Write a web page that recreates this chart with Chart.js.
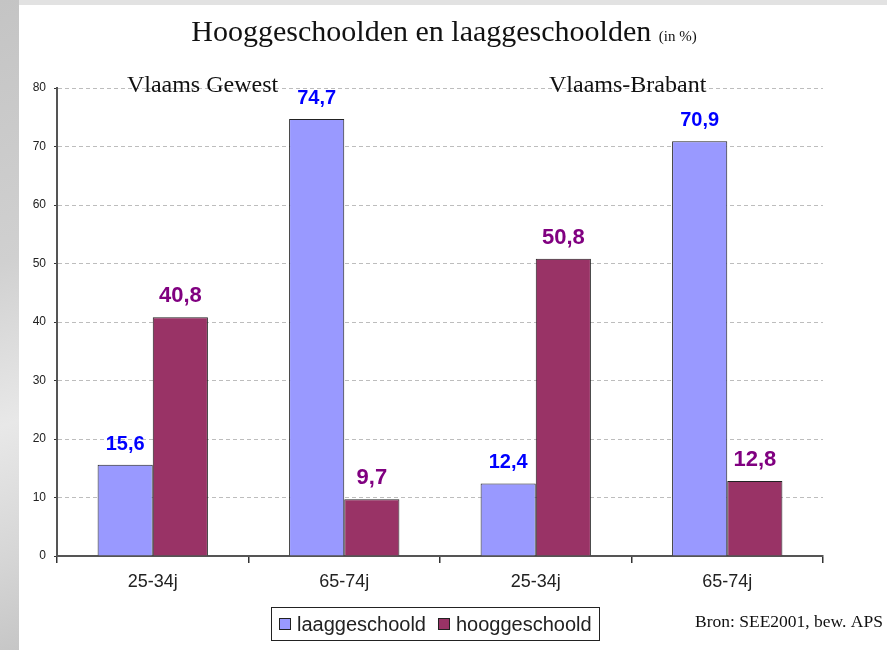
<!DOCTYPE html>
<html lang="nl">
<head>
  <meta charset="UTF-8">
  <title>Hooggeschoolden en laaggeschoolden</title>
  <script src="https://cdn.jsdelivr.net/npm/chart.js"></script>
  <style>
    html, body {
      margin: 0;
      padding: 0;
      width: 887px;
      height: 650px;
      overflow: hidden;
      background: #e2e2e2;
    }
    #left {
      position: absolute;
      left: 0; top: 0;
      width: 19px; height: 650px;
      background: linear-gradient(160deg, #c4c4c4 0%, #d0d0d0 40%, #e8e8e8 65%, #d6d6d6 85%, #c6c6c6 100%);
    }
    #panel {
      position: absolute;
      left: 19px; top: 5px;
      width: 868px; height: 645px;
      background: #fff;
    }
    #wrap {
      position: absolute;
      left: 0; top: 0;
      width: 887px; height: 650px;
    }
  </style>
</head>
<body>
  <div id="left"></div>
  <div id="panel"></div>
  <div id="wrap"><canvas id="chart" width="887" height="650"></canvas></div>

  <script>
    const categories = ['25-34j', '65-74j', '25-34j', '65-74j'];
    const groups = ['Vlaams Gewest', 'Vlaams-Brabant'];
    const laaggeschoold = [15.6, 74.7, 12.4, 70.9];
    const hooggeschoold = [40.8, 9.7, 50.8, 12.8];
    const yTicks = [0, 10, 20, 30, 40, 50, 60, 70, 80];

    // value labels above the bars
    const valueLabels = {
      id: 'valueLabels',
      afterDatasetsDraw(chart) {
        const ctx = chart.ctx;
        ctx.save();
        ctx.textAlign = 'center';
        ctx.textBaseline = 'alphabetic';
        chart.data.datasets.forEach((ds, i) => {
          const meta = chart.getDatasetMeta(i);
          ctx.fillStyle = ds.labelColor;
          ctx.font = 'bold ' + ds.labelSize + 'px Arial, "Liberation Sans", sans-serif';
          meta.data.forEach((bar, j) => {
            const txt = ds.data[j].toFixed(1).replace('.', ',');
            ctx.fillText(txt, bar.x, bar.y - 15);
          });
        });
        ctx.restore();
      }
    };

    // title, group names, source and boxed legend
    const decorations = {
      id: 'decorations',
      afterDraw(chart) {
        const ctx = chart.ctx;
        const area = chart.chartArea;
        ctx.save();
        ctx.fillStyle = '#111';
        ctx.textBaseline = 'alphabetic';

        // title with small suffix
        const big = '30px "Liberation Serif", "Times New Roman", serif';
        const small = '15px "Liberation Serif", "Times New Roman", serif';
        const t1 = 'Hooggeschoolden en laaggeschoolden ';
        const t2 = '(in %)';
        ctx.font = big;
        const w1 = ctx.measureText(t1).width;
        ctx.font = small;
        const w2 = ctx.measureText(t2).width;
        const tx = 444 - (w1 + w2) / 2;
        ctx.font = big;
        ctx.textAlign = 'left';
        ctx.fillText(t1, tx, 41);
        ctx.font = small;
        ctx.fillText(t2, tx + w1, 41);

        // group names
        const step = (area.right - area.left) / categories.length;
        ctx.font = '24px "Liberation Serif", "Times New Roman", serif';
        ctx.textAlign = 'center';
        ctx.fillText(groups[0], area.left + step * 0.76, 92);
        ctx.fillText(groups[1], area.left + step * 2.98, 92);

        // source
        ctx.font = '17.5px "Liberation Serif", "Times New Roman", serif';
        ctx.textAlign = 'left';
        ctx.fillText('Bron: SEE2001, bew. APS', 695, 627);

        // legend
        const lx = 271, ly = 607, lw = 328, lh = 33;
        ctx.fillStyle = '#fff';
        ctx.fillRect(lx, ly, lw, lh);
        ctx.strokeStyle = '#222';
        ctx.lineWidth = 1;
        ctx.strokeRect(lx + 0.5, ly + 0.5, lw, lh);
        ctx.font = '20px Arial, "Liberation Sans", sans-serif';
        let cx = lx + 8;
        chart.data.datasets.forEach(ds => {
          ctx.fillStyle = ds.backgroundColor;
          ctx.fillRect(cx, ly + 11, 12, 12);
          ctx.strokeStyle = '#222';
          ctx.strokeRect(cx + 0.5, ly + 11.5, 11, 11);
          ctx.fillStyle = '#222';
          ctx.fillText(ds.label, cx + 18, ly + 24);
          cx += 18 + ctx.measureText(ds.label).width + 12;
        });
        ctx.restore();
      }
    };

    new Chart(document.getElementById('chart'), {
      type: 'bar',
      data: {
        labels: categories,
        datasets: [{
          label: 'laaggeschoold',
          data: laaggeschoold,
          backgroundColor: '#9999FF',
          borderColor: '#222',
          borderWidth: 1,
          labelColor: '#0000FF',
          labelSize: 20
        }, {
          label: 'hooggeschoold',
          data: hooggeschoold,
          backgroundColor: '#993366',
          borderColor: '#222',
          borderWidth: 1,
          labelColor: '#800080',
          labelSize: 22
        }]
      },
      options: {
        responsive: false,
        animation: false,
        events: [],
        layout: { padding: { left: 0, top: 88, right: 64, bottom: 54 } },
        datasets: { bar: { categoryPercentage: 0.576, barPercentage: 1.0 } },
        plugins: {
          legend: { display: false },
          title: { display: false },
          tooltip: { enabled: false }
        },
        scales: {
          x: {
            offset: true,
            afterFit(scale) { scale.height = 40; },
            grid: {
              offset: true,
              drawOnChartArea: false,
              drawTicks: true,
              tickLength: 7,
              tickColor: '#333',
              lineWidth: 1.5
            },
            border: { color: '#555', width: 2 },
            ticks: {
              color: '#222',
              padding: 8,
              font: { family: 'Arial, "Liberation Sans", sans-serif', size: 18 }
            }
          },
          y: {
            min: 0,
            max: 80,
            afterFit(scale) { scale.width = 57; },
            afterBuildTicks(scale) { scale.ticks = yTicks.map(v => ({ value: v })); },
            grid: {
              color: '#bdbdbd',
              tickColor: '#333',
              tickLength: 3,
              tickBorderDash: [],
              drawTicks: true
            },
            border: { color: '#555', width: 2, dash: [4, 3] },
            ticks: {
              color: '#222',
              padding: 8,
              font: { family: 'Arial, "Liberation Sans", sans-serif', size: 12 }
            }
          }
        }
      },
      plugins: [valueLabels, decorations]
    });
  </script>
</body>
</html>
